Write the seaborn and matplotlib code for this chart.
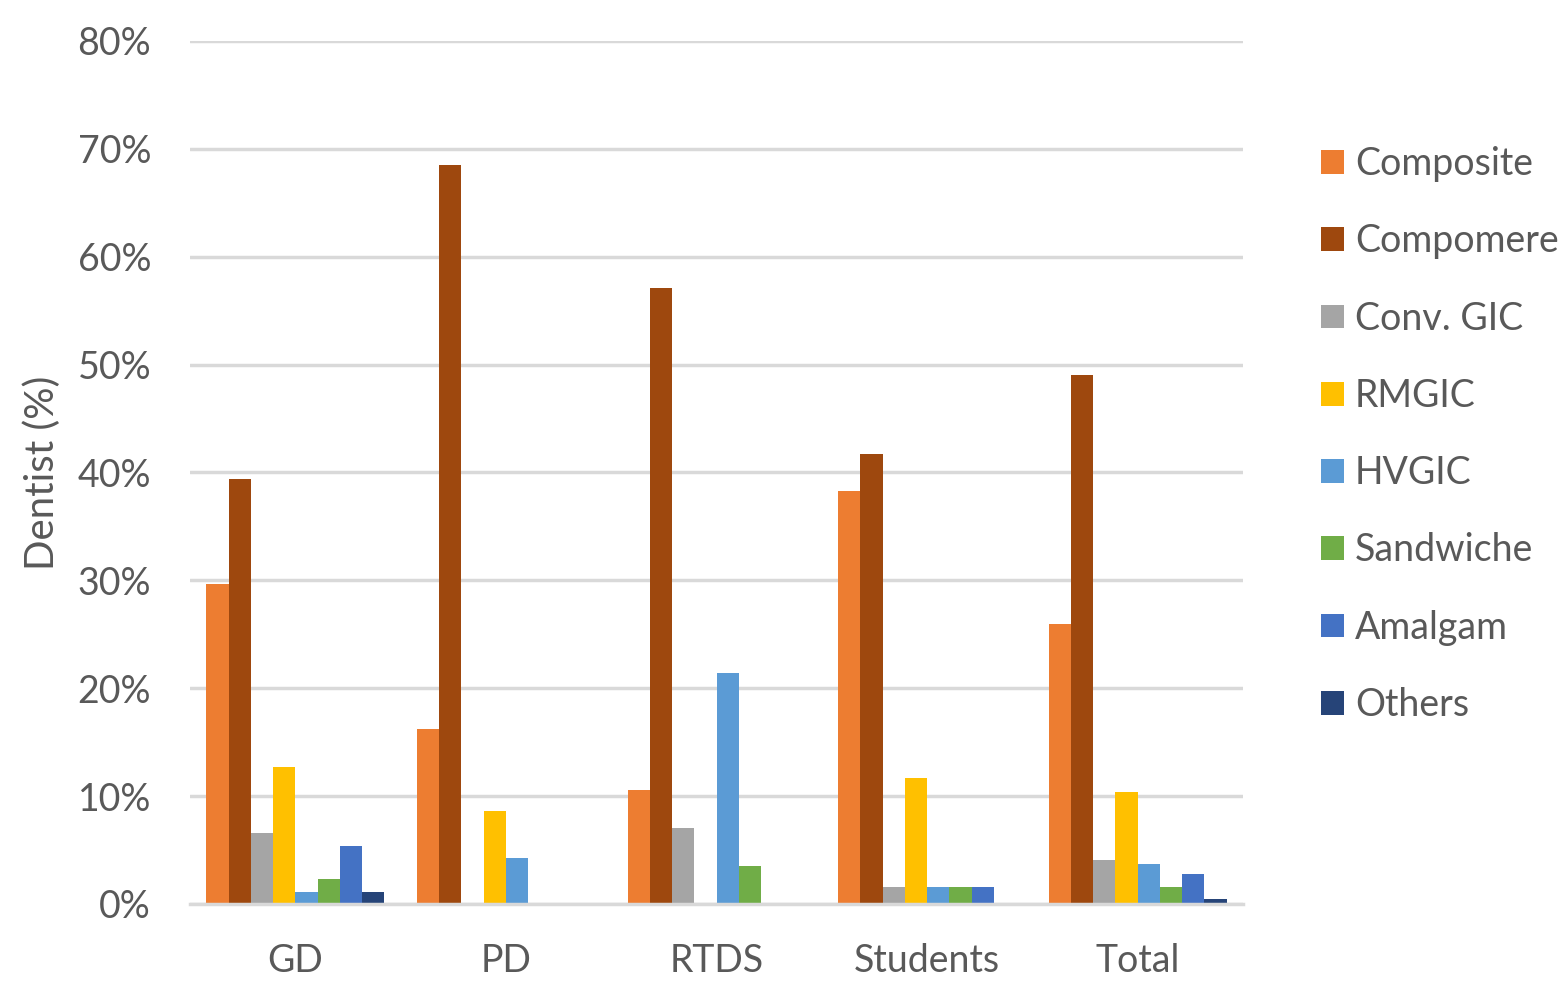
import matplotlib.pyplot as plt
import seaborn as sns
import pandas as pd
from matplotlib.ticker import PercentFormatter
from matplotlib.patches import Patch

# groups on the x axis and materials in the legend
groups = ["GD", "PD", "RTDS", "Students", "Total"]
materials = ["Composite", "Compomere", "Conv. GIC", "RMGIC", "HVGIC",
             "Sandwiche", "Amalgam", "Others"]

# share of dentists (%) per material, one list per material, in group order
composite = [29.7, 16.2, 10.6, 38.3, 26.0]
compomere = [39.4, 68.5, 57.1, 41.7, 49.0]
conv_gic = [6.6, 0.0, 7.0, 1.6, 4.1]
rmgic = [12.7, 8.6, 0.0, 11.7, 10.4]
hvgic = [1.1, 4.3, 21.4, 1.6, 3.7]
sandwiche = [2.3, 0.0, 3.5, 1.6, 1.6]
amalgam = [5.4, 0.0, 0.0, 1.6, 2.8]
others = [1.1, 0.0, 0.0, 0.0, 0.5]

colors = ["#ED7D31", "#9E480E", "#A5A5A5", "#FFC000", "#5B9BD5",
          "#70AD47", "#4472C4", "#264478"]

series = [composite, compomere, conv_gic, rmgic, hvgic, sandwiche, amalgam, others]
rows = []
for mat, vals in zip(materials, series):
    for g, v in zip(groups, vals):
        rows.append({"group": g, "material": mat, "value": v})
df = pd.DataFrame(rows)

sns.set_theme(style="white")
plt.rcParams['font.family'] = ['Lato', 'DejaVu Sans']
text_col = "#595959"
grid_col = "#D9D9D9"

fig = plt.figure(figsize=(15.64, 9.84), dpi=100)
ax = fig.add_axes([190 / 1564, 80 / 984, 1053 / 1564, 863 / 984])

sns.barplot(data=df, x="group", y="value", hue="material", order=groups,
            hue_order=materials, palette=dict(zip(materials, colors)),
            width=0.845, saturation=1, ax=ax, legend=False, linewidth=0)

ax.set_ylim(0, 80)
ax.set_xlim(-0.5, len(groups) - 0.5)
ax.set_yticks(range(0, 81, 10))
ax.yaxis.set_major_formatter(PercentFormatter(decimals=0))
ax.grid(axis="y", color=grid_col, linewidth=2.5)
ax.set_axisbelow(True)
for side in ["left", "right", "top"]:
    ax.spines[side].set_visible(False)
ax.spines["bottom"].set_color(grid_col)
ax.spines["bottom"].set_linewidth(2.5)
ax.tick_params(axis="both", length=0, labelsize=27, colors=text_col)
ax.tick_params(axis="y", pad=28)
ax.tick_params(axis="x", pad=28)
ax.set_xlabel("")
ax.set_ylabel("Dentist (%)", fontsize=29, color=text_col, labelpad=12)

handles = [Patch(facecolor=c, edgecolor="none") for c in colors]
leg = ax.legend(handles, materials, loc="center left",
                bbox_to_anchor=(1.06, 0.544), frameon=False, fontsize=27,
                handlelength=0.6, handleheight=0.6, handletextpad=0.3,
                labelspacing=1.1, borderaxespad=0)
for t in leg.get_texts():
    t.set_color(text_col)

fig.savefig("out.png", dpi=100)
